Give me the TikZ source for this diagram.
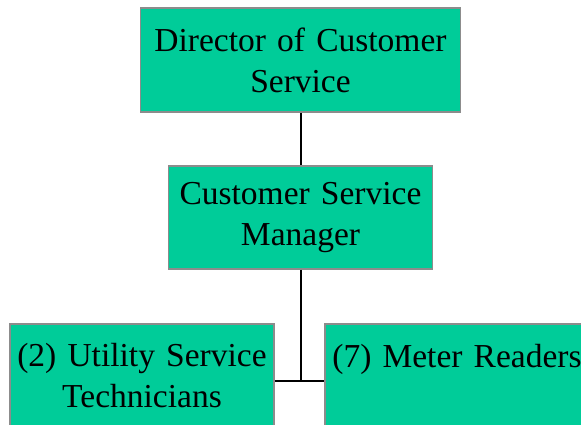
\documentclass[tikz,border=0pt]{standalone}
\usepackage{fontspec}
\setmainfont{Liberation Serif}
\definecolor{boxfill}{HTML}{00CC99}
\definecolor{boxline}{HTML}{8C8C8C}

\begin{document}
\begin{tikzpicture}[x=1pt, y=-1pt,
  orgbox/.style={draw=boxline, line width=1.8pt, fill=boxfill, inner sep=0pt,
    align=center, font=\fontsize{33.5}{41}\selectfont},
  link/.style={line width=2pt, black}]
  % Page frame (the lowest row runs off the edge)
  \useasboundingbox (0,0) rectangle (581,425);
  \clip (0,0) rectangle (581,425);

  % Boxes
  \node[orgbox, text width=320pt, minimum height=104pt] (dir) at (300.5,60)
    {Director of Customer\\Service};
  \node[orgbox, text width=264pt, minimum height=103pt] (mgr) at (300.5,217.5)
    {Customer Service\\Manager};
  \node[orgbox, text width=264pt, minimum height=104pt] (tech) at (142,376)
    {(2) Utility Service\\Technicians};
  \node[orgbox, text width=264pt, minimum height=104pt] (readers) at (457,376)
    {(7) Meter Readers\\\mbox{}};

  % Connectors
  \coordinate (joint) at (300.5,381);
  \draw[link] (dir) -- (mgr);
  \draw[link] (mgr) -- (joint);
  \draw[link] (tech.east |- joint) -- (readers.west |- joint);
\end{tikzpicture}
\end{document}
